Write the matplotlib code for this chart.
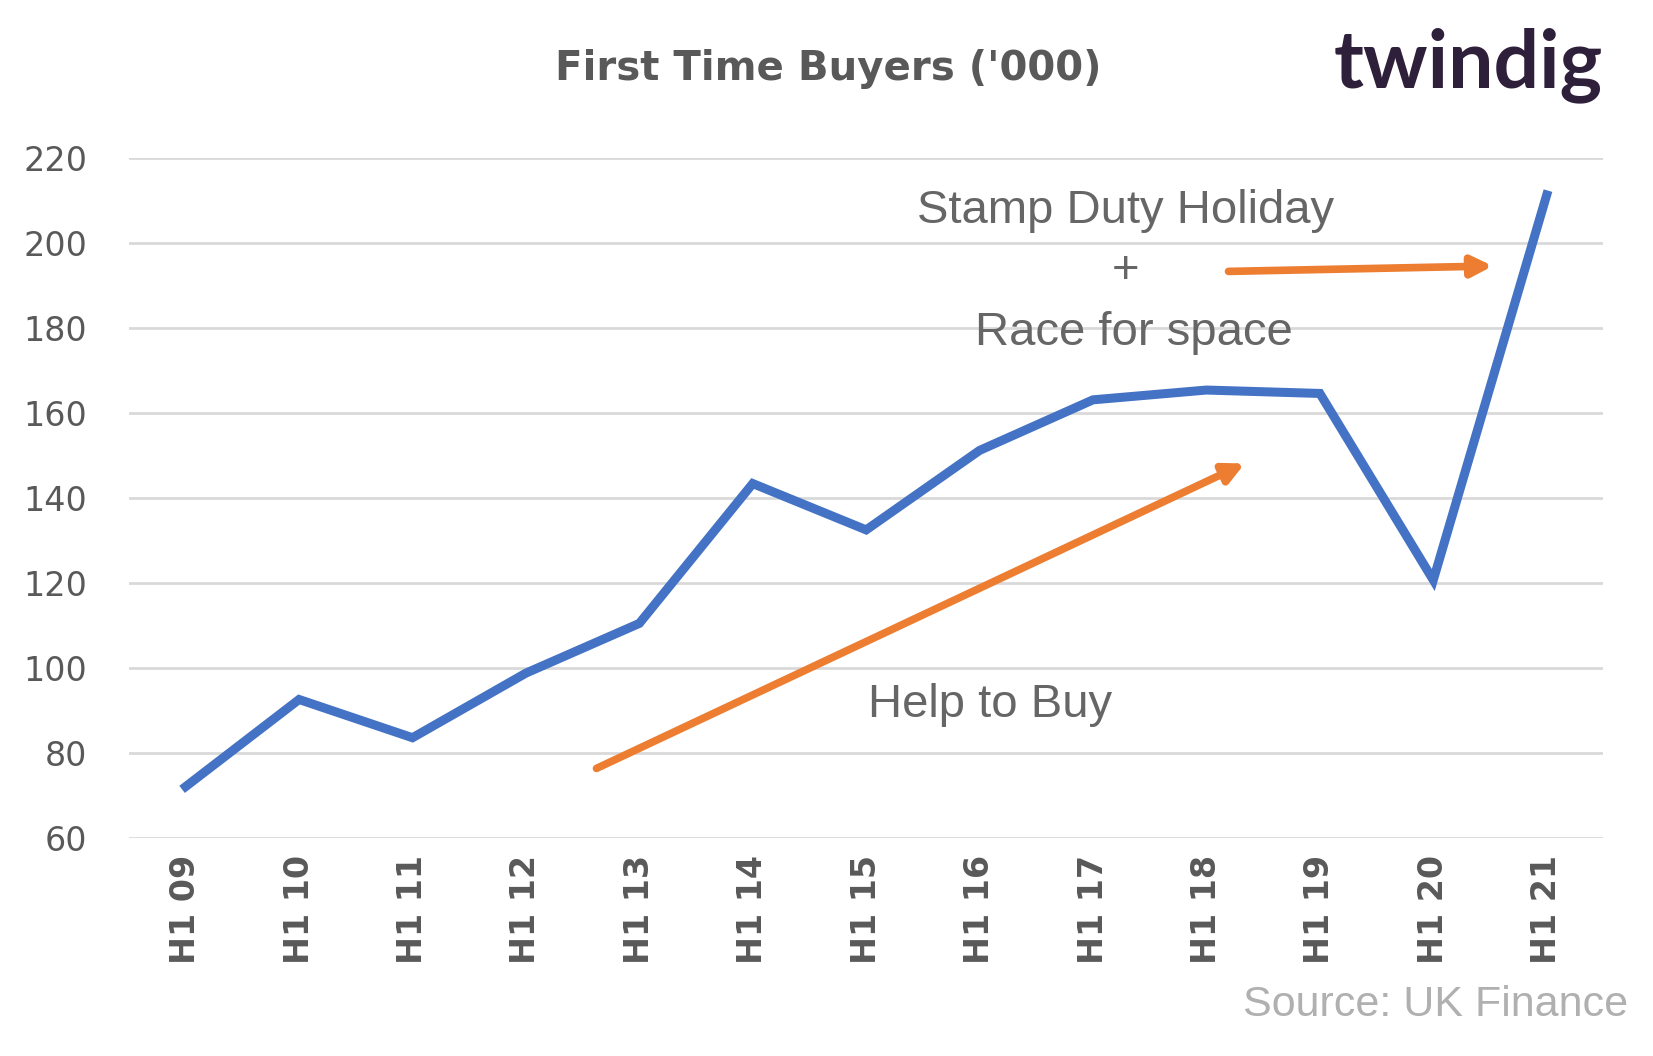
import matplotlib
matplotlib.use("Agg")
import matplotlib.pyplot as plt

categories = ["H1 09","H1 10","H1 11","H1 12","H1 13","H1 14","H1 15","H1 16","H1 17","H1 18","H1 19","H1 20","H1 21"]
buyers = [72.2, 92.7, 83.7, 98.9, 110.6, 143.5, 132.6, 151.3, 163.2, 165.5, 164.7, 120.8, 211.4]
yticks = [60, 80, 100, 120, 140, 160, 180, 200, 220]

fig = plt.figure(figsize=(16.53, 10.56), dpi=100)
ax = fig.add_axes([0.078, 0.206, 0.892, 0.644])
x = list(range(len(categories)))
ax.plot(x, buyers, color="#4472C4", lw=6.5, solid_joinstyle="miter", zorder=3)
ax.set_xlim(-0.5, 12.5)
ax.set_ylim(60, 220)
ax.set_yticks(yticks)
ax.set_xticks(x)
ax.set_xticklabels(categories, rotation=90, fontsize=24, color="#595959")
ax.tick_params(axis="y", labelsize=24, labelcolor="#595959", length=0, pad=30)
ax.tick_params(axis="x", length=0, pad=12)
for t in ax.get_xticklabels():
    t.set_fontweight("bold")
ax.grid(axis="y", color="#D9D9D9", lw=2)
for s in ax.spines.values():
    s.set_visible(False)
ax.set_axisbelow(True)

orange = "#ED7D31"
ax.annotate("", xy=(9.36, 148.5), xytext=(3.6, 76.2),
            arrowprops=dict(arrowstyle="-|>,head_length=1.2,head_width=0.6", color=orange, lw=5.5))
ax.annotate("", xy=(11.55, 194.7), xytext=(9.17, 193.4),
            arrowprops=dict(arrowstyle="-|>,head_length=1.2,head_width=0.6", color=orange, lw=5.5))

tc = "#666666"
fs = 34
ax.text(8.29, 207.6, "Stamp Duty Holiday", ha="center", va="center", fontsize=fs, color=tc, family="Liberation Sans")
ax.text(8.29, 193.4, "+", ha="center", va="center", fontsize=fs, color=tc, family="Liberation Sans")
ax.text(8.36, 179, "Race for space", ha="center", va="center", fontsize=fs, color=tc, family="Liberation Sans")
ax.text(7.09, 91.4, "Help to Buy", ha="center", va="center", fontsize=fs, color=tc, family="Liberation Sans")

fig.text(0.501, 0.935, "First Time Buyers ('000)", ha="center", va="center", fontsize=29,
         fontweight="bold", color="#595959")
fig.text(0.888, 0.938, "twindig", ha="center", va="center", fontsize=58, color="#2E1F3A",
         family="Lato", fontweight="bold")
fig.text(0.985, 0.048, "Source: UK Finance", ha="right", va="center", fontsize=31,
         color="#B0B0B0", family="Liberation Sans")
fig.savefig("out.png", dpi=100)
